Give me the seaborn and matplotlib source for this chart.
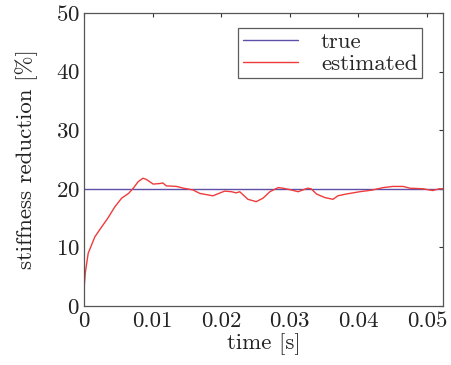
import matplotlib
matplotlib.use("Agg")
import matplotlib.pyplot as plt
import seaborn as sns
import pandas as pd
import numpy as np

# data
est_time = [0.0, 0.0002, 0.00063, 0.0016, 0.0023, 0.0035, 0.0045, 0.0055, 0.0065, 0.0072,
            0.0079, 0.0086, 0.0091, 0.0101, 0.0111, 0.0115, 0.0120, 0.0135, 0.0145, 0.0159,
            0.0169, 0.0188, 0.0205, 0.0215, 0.0222, 0.0227, 0.0239, 0.0251, 0.0261, 0.0271,
            0.0283, 0.0290, 0.0302, 0.0312, 0.0319, 0.0326, 0.0331, 0.0339, 0.0351, 0.0363,
            0.0370, 0.0382, 0.0402, 0.0421, 0.0436, 0.0450, 0.0465, 0.0475, 0.0494, 0.0508,
            0.0518, 0.0523]
est_value = [2.5, 5.6, 9.0, 11.8, 13.0, 15.0, 16.9, 18.4, 19.2, 20.1,
             21.2, 21.8, 21.6, 20.8, 20.9, 21.0, 20.5, 20.4, 20.1, 19.8,
             19.2, 18.8, 19.6, 19.5, 19.3, 19.5, 18.2, 17.8, 18.4, 19.5,
             20.2, 20.1, 19.8, 19.5, 19.8, 20.1, 20.0, 19.1, 18.5, 18.2,
             18.8, 19.1, 19.5, 19.8, 20.2, 20.4, 20.4, 20.1, 20.0, 19.7,
             20.0, 20.0]
true_time = [0.0, 0.0523]
true_value = [20.0, 20.0]
series_names = ["true", "estimated"]
colors = ["#5e4fa8", "#ef3b3b"]
x_ticks = [0, 0.01, 0.02, 0.03, 0.04, 0.05]
x_tick_labels = ["0", "0.01", "0.02", "0.03", "0.04", "0.05"]
y_ticks = [0, 10, 20, 30, 40, 50]

df = pd.concat([
    pd.DataFrame({"time": true_time, "value": true_value, "series": series_names[0]}),
    pd.DataFrame({"time": est_time, "value": est_value, "series": series_names[1]}),
], ignore_index=True)

sns.set_theme(style="white")
plt.rcParams["font.family"] = "serif"
plt.rcParams["font.serif"] = ["cmr10"]
plt.rcParams["mathtext.fontset"] = "cm"
plt.rcParams["axes.formatter.use_mathtext"] = True

FS = 16.5
fig = plt.figure(figsize=(4.51, 3.65), dpi=100)
ax = fig.add_axes([0.186, 0.162, 0.796, 0.802])

sns.lineplot(data=df, x="time", y="value", hue="series", hue_order=series_names,
             palette=colors, linewidth=1.0, ax=ax, estimator=None, sort=False)

ax.set_xlim(0, 0.0523)
ax.set_ylim(0, 50)
ax.set_xticks(x_ticks)
ax.set_xticklabels(x_tick_labels)
ax.set_yticks(y_ticks)
ax.tick_params(direction="in", length=3, width=0.8, top=True, right=True,
               labelsize=FS, colors="#333333", labelcolor="#222222")
ax.tick_params(axis="x", pad=4)
ax.tick_params(axis="y", pad=3)
for s in ax.spines.values():
    s.set_color("#555555")
    s.set_linewidth(0.9)
ax.set_xlabel("time [s]", fontsize=FS, color="#222222", labelpad=2)
ax.set_ylabel("stiffness reduction [%]", fontsize=FS, color="#222222", labelpad=13)

leg = ax.legend(loc="upper right", bbox_to_anchor=(0.942, 0.95), fontsize=FS,
                frameon=True, fancybox=False, handlelength=2.4, borderpad=0.2,
                labelspacing=0.05, handletextpad=1.0, borderaxespad=0)
leg.get_frame().set_edgecolor("#333333")
leg.get_frame().set_linewidth(0.9)
leg.set_title(None)

fig.savefig("out.png", dpi=100)
